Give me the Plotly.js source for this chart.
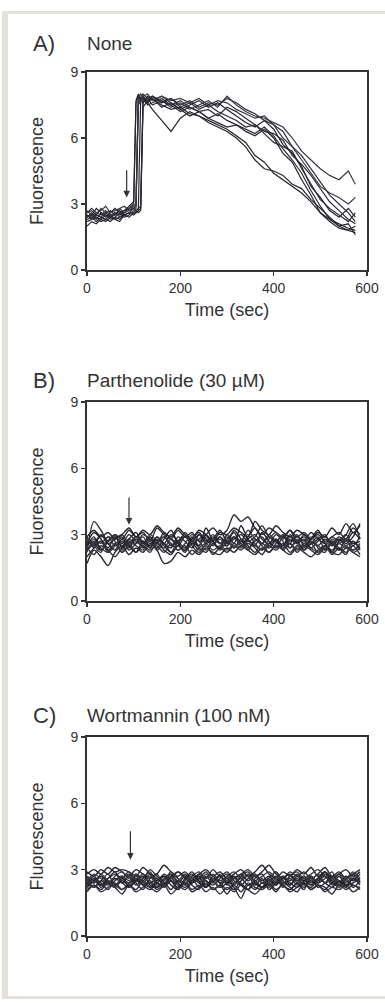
<!DOCTYPE html>
<html>
<head>
<meta charset="utf-8">
<script src="https://cdn.plot.ly/plotly-3.0.1.min.js"></script>
<style>
html,body{margin:0;padding:0;background:#fff;}
#wrap{position:relative;width:385px;height:1003px;overflow:hidden;}
#frame{position:absolute;left:2px;top:11px;width:400px;height:982px;border-left:6px solid #e4e1da;border-top:3px solid #e4e1da;border-bottom:3px solid #e4e1da;z-index:0;}
#chart{position:absolute;left:0;top:0;width:385px;height:1003px;z-index:1;}
</style>
</head>
<body>
<div id="wrap"><div id="frame"></div><div id="chart"></div></div>
<script>
// ---------- Data ----------
const panelLetters = ["A)", "B)", "C)"];
const panelTitles = ["None", "Parthenolide (30 µM)", "Wortmannin (100 nM)"];
const xTickVals = [0, 200, 400, 600];
const yTickVals = [0, 3, 6, 9];
const stimulusTime = [85, 90, 93];
const arrowTip = [3.3, 3.45, 3.45];
const arrowTail = [4.6, 4.75, 4.8];

// Panel A (None)
const tA = [0,10,20,30,40,50,60,70,80,90,100,105,110,115,120,130,140,160,180,200,220,240,260,280,300,320,340,360,380,400,420,440,460,480,500,520,540,560,575];
const a1 = [2.4,2.5,2.3,2.6,2.5,2.4,2.6,2.5,2.7,2.8,3.0,7.6,7.9,7.7,7.8,7.6,7.8,7.5,7.3,7.4,7.1,7.0,6.8,6.6,6.4,6.1,5.8,5.2,4.9,4.4,4.1,3.8,3.5,3.1,2.6,2.3,2.1,1.9,1.8];
const a2 = [2.6,2.7,2.5,2.8,2.6,2.7,2.5,2.8,2.9,2.7,2.8,2.9,7.8,8.0,7.9,7.7,7.9,7.6,7.8,7.5,7.7,7.4,7.6,7.5,7.8,7.6,7.3,7.1,6.8,6.6,6.3,5.6,5.2,4.6,4.0,3.4,3.0,2.6,2.2];
const a3 = [2.2,2.3,2.4,2.2,2.3,2.5,2.3,2.4,2.5,2.6,2.5,2.6,2.7,7.7,7.9,7.6,7.3,6.8,6.3,6.9,7.2,7.0,6.7,6.5,6.3,6.0,5.6,5.0,4.6,4.5,4.3,3.9,3.7,3.2,2.8,2.4,2.0,2.1,1.6];
const a4 = [2.5,2.4,2.6,2.5,2.7,2.5,2.6,2.4,2.6,2.8,2.9,3.0,7.9,7.8,8.0,7.8,7.9,7.7,7.4,7.6,7.3,7.5,7.7,7.4,7.9,7.5,7.2,7.0,6.9,6.7,6.5,6.0,5.4,5.0,4.6,4.3,4.1,4.5,3.9];
const a5 = [2.0,2.2,2.1,2.3,2.2,2.4,2.3,2.2,2.5,2.4,2.6,2.6,2.7,2.8,7.6,7.8,7.5,7.7,7.5,7.2,7.4,7.2,6.9,7.1,6.8,6.6,6.4,6.2,6.5,6.1,5.5,5.0,4.4,3.6,2.9,2.3,2.0,1.8,2.0];
const a6 = [2.7,2.5,2.8,2.6,2.4,2.6,2.8,2.6,2.7,2.9,3.1,7.7,8.0,7.8,7.6,7.9,7.7,7.9,7.6,7.3,7.5,7.7,7.4,7.6,7.3,7.0,6.7,6.5,6.8,6.4,5.7,5.3,4.7,3.8,3.3,2.7,2.4,2.8,2.4];
const a7 = [2.4,2.6,2.4,2.3,2.5,2.3,2.4,2.6,2.4,2.5,2.7,2.8,7.5,7.7,7.8,7.5,7.6,7.8,7.5,7.7,7.4,7.2,7.3,7.0,7.4,7.2,6.9,6.6,6.3,6.2,5.9,5.2,4.8,4.3,3.7,3.1,2.7,2.3,2.1];
const a8 = [2.3,2.4,2.2,2.4,2.3,2.2,2.4,2.3,2.5,2.6,2.6,2.7,2.6,2.7,7.4,7.7,7.8,7.4,7.6,7.3,7.0,7.2,6.9,6.7,6.5,6.6,6.3,6.1,6.4,6.0,5.3,4.9,4.1,3.4,2.6,2.2,1.9,1.8,1.7];
const a9 = [2.6,2.8,2.6,2.7,2.9,2.6,2.7,2.8,2.6,2.7,2.9,3.0,7.8,7.6,7.9,8.0,7.7,7.9,7.7,7.8,7.6,7.8,7.5,7.7,7.6,7.3,7.1,6.9,7.0,6.6,6.0,5.6,5.0,4.4,3.8,3.5,3.3,3.0,3.3];
const a10 = [2.5,2.3,2.5,2.4,2.6,2.4,2.5,2.7,2.5,2.6,2.8,2.7,2.8,2.9,7.7,7.6,7.9,7.6,7.8,7.4,7.6,7.3,7.5,7.2,7.0,6.8,6.5,6.6,6.2,5.8,5.6,5.4,4.6,3.9,3.2,2.8,2.5,2.2,2.6];

// Panel B (Parthenolide)
const tB = [0,15,30,45,60,75,90,105,120,135,150,165,180,195,210,225,240,255,270,285,300,315,330,345,360,375,390,405,420,435,450,465,480,495,510,525,540,555,570,585];
const b1 = [2.6,3.1,2.8,2.4,2.9,2.6,3.0,2.7,2.5,2.9, 2.6,3.1,2.8,2.5,2.9,2.7,3.0,2.6,2.8,3.2, 2.7,2.9,2.5,2.8,3.0,2.6,2.9,2.7,2.4,2.8, 2.6,3.0,2.7,2.5,2.8,2.6,2.9,2.7,3.1,2.8];
const b2 = [2.2,3.6,3.2,2.7,3.0,2.8,3.2,2.9,3.1,2.7, 3.3,3.0,2.8,3.2,2.9,3.1,2.7,3.0,3.3,3.0, 3.2,3.9,3.6,3.8,3.3,3.0,3.3,3.1,2.9,3.2, 2.9,3.1,2.8,3.0,2.7,2.9,3.1,2.8,3.3,3.0];
const b3 = [1.7,2.3,2.0,1.6,2.2,2.5,2.1,2.4,2.2,2.6, 2.3,1.7,1.8,2.2,2.0,2.3,2.1,2.4,2.2,2.1, 2.4,2.2,2.5,2.3,2.1,2.4,2.2,2.5,2.3,2.1, 2.4,2.2,2.0,2.3,2.5,2.2,2.1,2.4,2.2,2.0];
const b4 = [2.5,2.8,2.6,2.9,2.5,2.7,2.4,2.8,2.6,3.0, 2.7,2.4,2.8,2.6,3.1,2.7,2.5,2.9,2.6,2.8, 2.5,2.9,2.7,3.2,2.8,2.6,3.0,2.7,2.5,2.9, 2.6,2.4,2.7,2.5,2.3,2.6,2.8,2.5,2.7,2.4];
const b5 = [2.0,2.4,2.7,2.3,2.6,2.2,2.5,2.8,2.4,2.7, 2.3,2.6,2.2,2.5,2.3,2.7,2.4,2.2,2.6,2.3, 2.7,2.4,2.8,2.5,2.2,2.6,2.4,2.7,2.3,2.6, 2.2,2.5,2.3,2.1,2.4,2.2,2.6,2.4,2.3,2.5];
const b6 = [2.9,3.2,2.9,3.1,2.8,3.0,3.3,2.9,3.2,3.0, 3.4,3.1,2.9,3.3,3.0,2.8,3.2,3.0,2.7,3.1, 3.0,3.3,3.1,2.9,3.6,3.2,3.0,3.4,3.1,2.9, 3.2,3.0,2.8,3.1,2.9,3.3,3.0,3.5,3.1,3.4];
const b7 = [2.4,2.1,2.5,2.3,2.0,2.4,2.6,2.2,2.5,2.3, 2.6,2.3,2.1,2.5,2.2,2.6,2.3,2.5,2.1,2.4, 2.2,2.5,2.3,2.6,2.4,2.1,2.5,2.3,2.6,2.2, 2.5,2.3,2.6,2.2,2.5,2.1,2.4,2.2,2.5,2.1];
const b8 = [2.7,2.5,3.0,2.6,2.8,3.0,2.6,2.9,2.7,2.5, 2.9,2.6,3.0,2.7,2.4,2.8,3.1,2.7,2.9,2.6, 2.8,3.1,2.6,2.9,3.3,2.8,2.6,3.0,2.8,3.2, 2.7,2.9,2.6,2.8,3.0,2.5,2.8,2.6,2.9,3.5];
const b9 = [2.3,2.7,2.4,2.2,2.6,2.3,2.7,2.5,2.3,2.8, 2.5,2.2,2.6,2.3,2.5,2.1,2.4,2.6,2.3,2.5, 2.3,2.6,2.4,2.7,2.5,2.3,2.6,2.8,2.4,2.6, 2.3,2.6,2.4,2.2,2.5,2.7,2.3,2.5,2.2,2.4];
const b10 = [2.8,2.6,2.3,2.7,2.9,2.5,2.8,2.6,3.0,2.8, 2.6,2.9,2.5,2.7,2.9,2.6,2.8,3.0,2.7,2.9, 2.6,2.8,3.0,2.7,2.9,3.4,2.9,2.7,3.0,2.7, 2.9,2.7,3.1,2.8,2.6,2.9,2.7,3.0,3.5,2.8];
const b11 = [2.5,2.9,2.3,2.7,3.0,2.4,2.8,3.1,2.6,2.9, 2.4,2.8,3.2,2.6,2.3,2.9,2.5,3.3,2.7,2.4, 3.0,2.6,3.4,2.8,2.5,3.1,2.7,2.4,2.9,2.6, 3.0,2.5,2.8,3.2,2.6,2.3,2.7,3.0,2.5,2.9];
const b12 = [2.9,2.4,2.7,2.2,2.5,2.9,2.3,2.6,2.9,2.4, 2.8,2.5,2.2,2.7,3.0,2.5,2.2,2.6,3.0,2.6, 2.5,2.9,2.6,2.3,2.8,2.5,2.2,2.6,3.0,2.4, 2.7,2.3,2.6,2.9,2.3,2.7,2.4,2.1,2.7,2.3];
const b13 = [2.3,2.6,3.0,2.6,2.3,2.8,2.5,2.2,2.7,2.4, 2.9,2.6,2.4,2.9,2.7,2.4,3.0,2.8,2.5,2.9, 2.6,3.2,2.8,2.4,2.7,2.9,2.5,2.8,2.5,3.0, 2.6,2.8,2.4,2.7,2.9,2.6,2.3,2.8,2.6,2.7];
const b14 = [2.8,2.5,2.2,2.9,2.7,2.2,2.6,2.9,2.5,2.2, 2.7,2.9,2.6,2.3,2.6,3.0,2.7,2.3,2.8,2.6, 2.9,2.4,2.7,3.0,2.6,2.3,2.8,3.1,2.7,2.4, 2.8,2.6,2.9,2.4,2.2,2.8,2.6,2.8,2.3,2.6];

// Panel C (Wortmannin)
const tC = [0,15,30,45,60,75,90,105,120,135,150,165,180,195,210,225,240,255,270,285,300,315,330,345,360,375,390,405,420,435,450,465,480,495,510,525,540,555,570,585];
const c1 = [2.9,2.7,3.0,2.8,3.1,2.9,2.7,3.0,2.8,2.6, 2.8,3.2,2.9,2.7,2.9,2.6,2.8,3.0,2.7,2.9, 2.6,2.8,3.0,2.7,2.9,3.2,2.8,2.6,2.9,2.7, 3.0,2.8,3.1,2.7,2.9,2.6,2.8,3.0,2.7,2.9];
const c2 = [2.3,2.6,2.2,2.5,2.3,2.1,2.4,2.6,2.3,2.5, 2.2,2.4,2.1,2.5,2.3,2.6,2.2,2.4,2.1,2.3, 2.5,2.2,1.7,2.3,2.1,2.4,2.2,2.5,2.3,2.1, 2.4,2.2,2.5,2.3,2.1,2.4,2.2,2.5,2.3,2.2];
const c3 = [2.6,2.4,2.7,2.5,2.3,2.6,2.8,2.5,2.7,2.4, 2.6,2.3,2.7,2.5,2.8,2.4,2.6,2.9,2.5,2.7, 2.4,2.6,2.8,2.5,2.7,2.4,2.6,2.3,2.7,2.5, 2.8,2.5,2.7,2.4,2.9,2.6,2.4,2.7,2.5,2.8];
const c4 = [2.1,2.3,2.0,2.2,2.4,2.1,2.3,2.0,2.2,2.4, 2.1,2.3,1.9,2.2,2.4,2.1,2.3,2.0,2.2,1.9, 2.2,2.0,2.3,2.1,1.9,2.2,2.4,2.1,2.3,2.0, 2.2,2.4,2.1,2.3,2.0,2.2,2.1,2.3,2.0,2.2];
const c5 = [2.8,3.0,2.8,3.1,2.9,3.0,2.9,2.7,3.1,2.8, 2.5,2.8,2.6,2.9,2.7,2.5,2.8,2.6,3.0,2.7, 2.9,2.6,2.8,3.0,2.7,2.9,3.2,2.8,2.6,2.9, 2.7,2.9,2.6,2.8,3.1,2.7,2.9,2.6,2.8,3.0];
const c6 = [2.4,2.2,2.5,2.3,2.6,2.4,2.2,2.5,2.3,2.1, 2.4,2.2,2.5,2.3,2.1,2.4,2.6,2.3,2.5,2.2, 2.4,2.7,2.3,2.1,2.4,2.2,2.5,2.3,2.6,2.4, 2.2,2.5,2.3,2.6,2.4,2.2,2.5,2.3,2.4,2.6];
const c7 = [2.0,2.3,2.1,2.4,2.2,1.9,2.3,2.1,2.5,2.2, 2.0,2.3,2.5,2.1,2.4,2.0,2.2,2.5,2.1,2.3, 1.9,2.3,2.0,2.4,2.2,2.1,2.3,2.0,2.4,2.2, 2.0,2.4,2.1,2.3,2.2,1.9,2.3,2.1,2.3,2.1];
const c8 = [2.7,2.5,2.3,2.6,2.8,2.6,2.4,2.7,2.5,2.8, 2.6,2.4,2.7,2.9,2.6,2.4,2.7,2.5,2.3,2.6, 2.8,2.5,2.3,2.6,2.8,2.5,2.7,2.4,2.6,2.8, 2.5,2.7,2.4,2.6,2.8,2.5,2.3,2.6,2.8,2.5];
const c9 = [2.5,2.8,2.6,2.4,2.7,2.9,2.6,2.8,2.6,3.0, 2.7,2.5,2.8,2.6,2.4,2.7,2.9,2.6,2.8,2.5, 2.7,2.9,2.6,2.8,2.5,2.7,2.9,2.6,2.4,2.7, 2.9,2.6,2.8,3.0,2.7,2.5,2.8,2.6,2.9,2.6];
const c10 = [2.2,2.5,2.7,2.4,2.2,2.5,2.3,2.6,2.4,2.2, 2.5,2.7,2.3,2.1,2.5,2.8,2.4,2.2,2.6,2.4, 2.1,2.4,2.6,2.3,2.5,2.2,2.4,2.7,2.3,2.1, 2.4,2.6,2.3,2.5,2.7,2.3,2.5,2.2,2.6,2.3];
const c11 = [2.4,2.7,2.3,2.6,2.9,2.4,2.7,2.3,2.6,2.9, 2.4,2.7,2.5,2.2,2.6,2.9,2.5,2.2,2.7,2.4, 2.6,2.3,2.7,2.9,2.4,2.2,2.6,2.9,2.5,2.3, 2.7,2.4,2.2,2.6,2.9,2.4,2.7,2.3,2.6,2.4];
const c12 = [2.6,2.2,2.5,2.8,2.3,2.6,2.9,2.4,2.1,2.6, 2.8,2.3,2.6,2.4,2.7,2.3,2.1,2.7,2.4,2.8, 2.3,2.6,2.4,2.1,2.6,2.8,2.3,2.6,2.2,2.7, 2.4,2.1,2.7,2.4,2.6,2.9,2.3,2.6,2.2,2.5];
const c13 = [2.2,2.6,2.4,2.1,2.5,2.7,2.2,2.5,2.8,2.3, 2.2,2.6,2.8,2.4,2.2,2.5,2.7,2.2,2.5,2.7, 2.4,2.1,2.5,2.7,2.3,2.6,2.1,2.4,2.7,2.3, 2.6,2.3,2.6,2.2,2.4,2.7,2.5,2.2,2.6,2.4];
const c14 = [2.7,2.4,2.8,2.5,2.2,2.7,2.5,2.8,2.4,2.7, 2.3,2.5,2.9,2.6,2.3,2.7,2.4,2.8,2.5,2.2, 2.7,2.4,2.7,2.5,2.8,2.4,2.6,2.9,2.4,2.6, 2.3,2.7,2.5,2.8,2.4,2.6,2.8,2.4,2.7,2.4];

const seriesA = [a1,a2,a3,a4,a5,a6,a7,a8,a9,a10];
const seriesB = [b1,b2,b3,b4,b5,b6,b7,b8,b9,b10,b11,b12,b13,b14];
const seriesC = [c1,c2,c3,c4,c5,c6,c7,c8,c9,c10,c11,c12,c13,c14];

// ---------- Build ----------
const FONT = "Liberation Sans, Arial, Helvetica, sans-serif";
const INK = "#333333";
const traceColors = ["#22222a","#2e2e38","#26262e","#383842","#2a2a33"];

const panels = [
  {t: tA, s: seriesA, xa: "x", ya: "y", shape: "linear", w: 1.2},
  {t: tB, s: seriesB, xa: "x2", ya: "y2", shape: "spline", w: 1.4},
  {t: tC, s: seriesC, xa: "x3", ya: "y3", shape: "spline", w: 1.4}
];

const data = [];
panels.forEach(p => {
  p.s.forEach((vals, i) => {
    data.push({
      type: "scatter", mode: "lines", x: p.t, y: vals,
      xaxis: p.xa, yaxis: p.ya,
      line: {color: traceColors[i % traceColors.length], width: p.w, shape: p.shape, smoothing: 0.8},
      hoverinfo: "skip", showlegend: false
    });
  });
});

const H = 1003, mT = 72, mB = 67, mL = 87, mR = 18;
const plotH = H - mT - mB;
function py(pix){ return (H - mB - pix) / plotH; }
function px(pix){ return (pix - mL) / (385 - mL - mR); }

const domains = [[py(270), py(72)], [py(601), py(402)], [py(936), py(737)]];

function xaxisDef(anchor){
  return {
    anchor: anchor, range: [0, 600], tickvals: xTickVals, ticktext: xTickVals.map(String),
    showline: true, mirror: true, linecolor: INK, linewidth: 2,
    ticks: "outside", ticklen: 4, tickwidth: 1.5, tickcolor: INK,
    showgrid: false, zeroline: false,
    tickfont: {family: FONT, size: 14, color: INK},
    title: {text: "Time (sec)", font: {family: FONT, size: 18, color: INK}, standoff: 9}
  };
}
function yaxisDef(anchor, dom){
  return {
    anchor: anchor, domain: dom, range: [0, 9], tickvals: yTickVals, ticktext: yTickVals.map(String),
    showline: true, mirror: true, linecolor: INK, linewidth: 2,
    ticks: "outside", ticklen: 4, tickwidth: 1.5, tickcolor: INK,
    showgrid: false, zeroline: false,
    tickfont: {family: FONT, size: 14, color: INK},
    title: {text: "Fluorescence", font: {family: FONT, size: 18, color: INK}, standoff: 22}
  };
}

const annotations = [];
const letterY = [44, 380, 715];
const axNames = [["x","y"],["x2","y2"],["x3","y3"]];
for (let i = 0; i < 3; i++) {
  annotations.push({
    xref: "paper", yref: "paper", x: px(44), y: py(letterY[i]),
    xanchor: "center", yanchor: "middle", showarrow: false,
    text: panelLetters[i], font: {family: FONT, size: 22, color: INK}
  });
  annotations.push({
    xref: "paper", yref: "paper", x: px(85), y: py(letterY[i]),
    xanchor: "left", yanchor: "middle", showarrow: false,
    text: panelTitles[i], font: {family: FONT, size: 19, color: INK}
  });
  annotations.push({
    xref: axNames[i][0], yref: axNames[i][1],
    x: stimulusTime[i], y: arrowTip[i],
    axref: axNames[i][0], ayref: axNames[i][1],
    ax: stimulusTime[i], ay: arrowTail[i],
    text: "", showarrow: true, arrowhead: 2, arrowsize: 1.1, arrowwidth: 1.2, arrowcolor: INK
  });
}

const layout = {
  width: 385, height: H,
  margin: {l: mL, r: mR, t: mT, b: mB},
  paper_bgcolor: "rgba(0,0,0,0)", plot_bgcolor: "rgba(255,255,255,0)",
  showlegend: false,
  xaxis: xaxisDef("y"), yaxis: yaxisDef("x", domains[0]),
  xaxis2: xaxisDef("y2"), yaxis2: yaxisDef("x2", domains[1]),
  xaxis3: xaxisDef("y3"), yaxis3: yaxisDef("x3", domains[2]),
  annotations: annotations
};

Plotly.newPlot("chart", data, layout, {displayModeBar: false, staticPlot: true});
</script>
</body>
</html>
